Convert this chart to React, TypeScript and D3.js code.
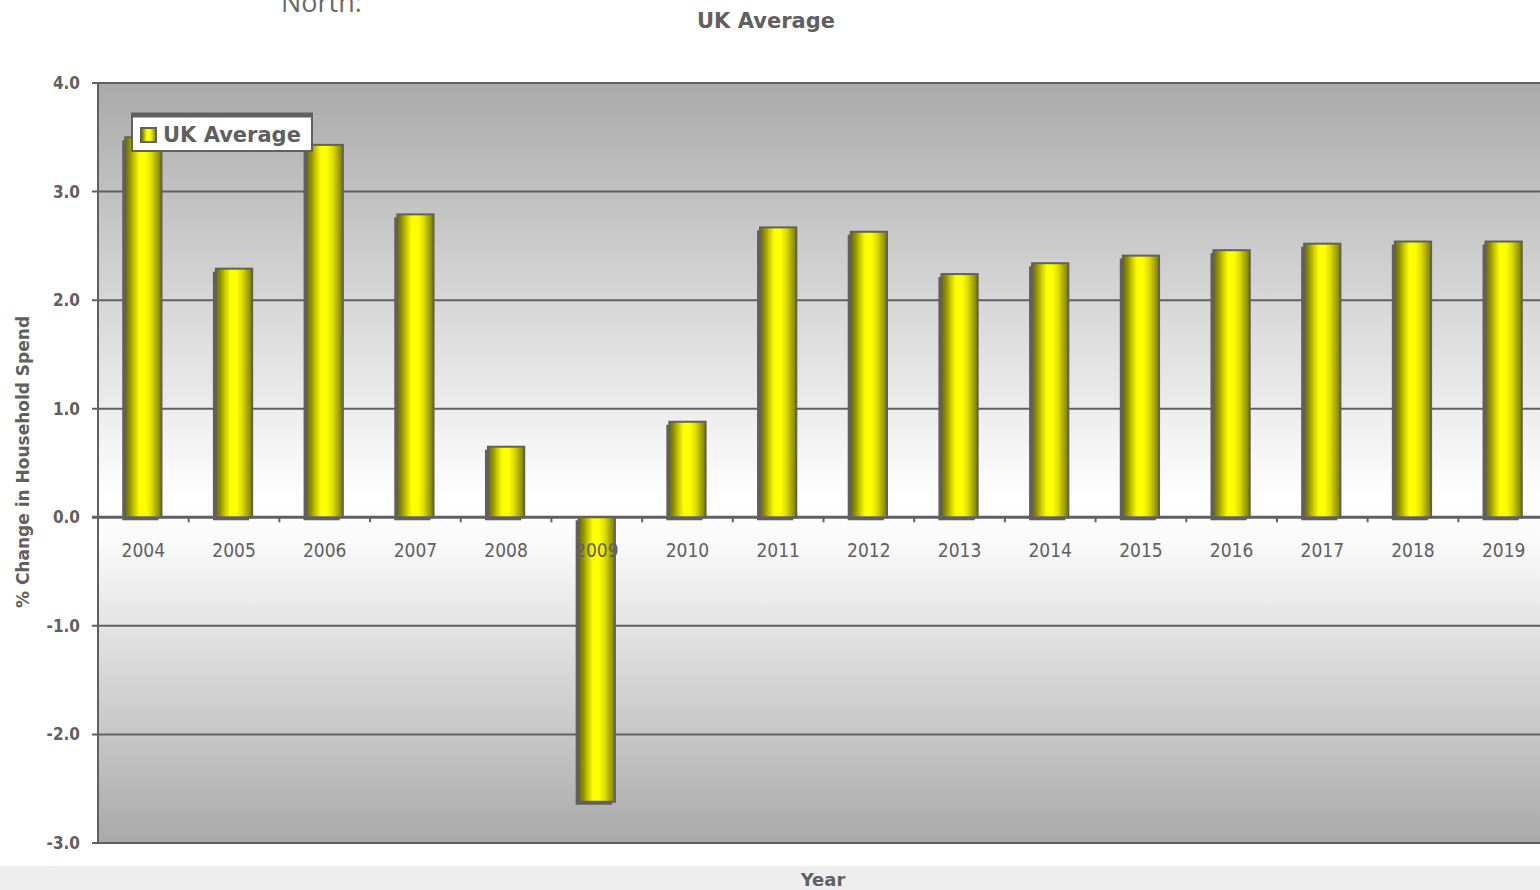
import React from "react";
import * as d3 from "d3";

// Annual % change in household spend, UK average
const years = ["2004", "2005", "2006", "2007", "2008", "2009", "2010", "2011", "2012", "2013", "2014", "2015", "2016", "2017", "2018", "2019"];
const ukAverage = [3.5, 2.29, 3.43, 2.79, 0.65, -2.62, 0.88, 2.67, 2.63, 2.24, 2.34, 2.41, 2.46, 2.52, 2.54, 2.54];
const yTicks = [4, 3, 2, 1, 0, -1, -2, -3];

const W = 1540;
const H = 890;
const plot = { left: 98, top: 83, right: 1549, bottom: 843 };
const axisColor = "#606060";
const textColor = "#606060";

export default function App() {
  const x = d3.scaleBand<string>().domain(years).range([plot.left, plot.right]).paddingInner(0.6).paddingOuter(0.3);
  const y = d3.scaleLinear().domain([-3, 4]).range([plot.bottom, plot.top]);
  const step = x.step();
  const bandStart = (d: string) => (x(d) as number) - step * x.paddingInner() / 2;
  const zero = y(0);

  return (
    <svg width={W} height={H} style={{ position: "absolute", left: 0, top: 0, background: "#fff" }}>
      <defs>
        <linearGradient id="plotBg" x1="0" y1="0" x2="0" y2="1">
          <stop offset="0%" stopColor="#aaaaaa" />
          <stop offset="55%" stopColor="#ffffff" />
          <stop offset="60%" stopColor="#fbfbfb" />
          <stop offset="100%" stopColor="#a9a9a9" />
        </linearGradient>
        <linearGradient id="barFill" x1="0" y1="0" x2="1" y2="0">
          <stop offset="0%" stopColor="#6e6e00" />
          <stop offset="12%" stopColor="#8f8f00" />
          <stop offset="26%" stopColor="#cccc00" />
          <stop offset="40%" stopColor="#ffff00" />
          <stop offset="56%" stopColor="#ffff00" />
          <stop offset="72%" stopColor="#dede00" />
          <stop offset="88%" stopColor="#a4a400" />
          <stop offset="100%" stopColor="#7a7a00" />
        </linearGradient>
      </defs>

      {/* page header remnant */}
      <text x={281} y={12} fontFamily="'Open Sans', sans-serif" fontSize={27} fill="#6a6a6a">North:</text>

      {/* chart title */}
      <text x={766} y={28} textAnchor="middle" fontFamily="'DejaVu Sans', sans-serif" fontWeight="bold" fontSize={21} fill={textColor}>UK Average</text>

      {/* plot area */}
      <rect x={plot.left} y={plot.top} width={W - plot.left} height={plot.bottom - plot.top} fill="url(#plotBg)" />

      {/* gridlines and y ticks */}
      {yTicks.map((t) => (
        <g key={t}>
          <line x1={92} x2={W} y1={y(t)} y2={y(t)} stroke={axisColor} strokeWidth={t === 0 ? 3 : 2} />
          <text x={80} y={y(t)} dy="0.35em" textAnchor="end" fontFamily="'DejaVu Sans', sans-serif" fontStretch="condensed" fontWeight="bold" fontSize={17} fill={textColor}>
            {t.toFixed(1)}
          </text>
        </g>
      ))}

      {/* left axis */}
      <line x1={plot.left} x2={plot.left} y1={plot.top} y2={plot.bottom} stroke={axisColor} strokeWidth={2} />

      {/* category ticks on zero line */}
      {years.slice(1).map((d) => (
        <line key={d} x1={bandStart(d)} x2={bandStart(d)} y1={zero} y2={zero + 5} stroke={axisColor} strokeWidth={2} />
      ))}

      {/* bars */}
      {years.map((d, i) => {
        const v = ukAverage[i];
        const bx = x(d) as number;
        const bw = x.bandwidth();
        const y0 = Math.min(y(v), zero);
        const h = Math.abs(y(v) - zero);
        return (
          <g key={d}>
            <rect x={bx - 3} y={y0 + 3} width={bw} height={h} fill={axisColor} />
            <rect x={bx} y={y0} width={bw} height={h} fill="url(#barFill)" stroke={axisColor} strokeWidth={2} />
          </g>
        );
      })}

      {/* x labels */}
      {years.map((d) => (
        <text key={d} x={(x(d) as number) + x.bandwidth() / 2} y={557} textAnchor="middle" fontFamily="'DejaVu Sans', sans-serif" fontStretch="condensed" fontSize={19} fill={textColor}>
          {d}
        </text>
      ))}

      {/* y axis title */}
      <text transform="translate(29,462) rotate(-90)" textAnchor="middle" fontFamily="'DejaVu Sans', sans-serif" fontWeight="bold" fontSize={17} fill={textColor}>
        % Change in Household Spend
      </text>

      {/* legend */}
      <g>
        <rect x={132} y={115} width={180} height={36} fill="#ffffff" stroke={axisColor} strokeWidth={2} />
        <line x1={131} x2={313} y1={115} y2={115} stroke={axisColor} strokeWidth={5} />
        <rect x={141} y={128} width={15} height={14} fill="url(#barFill)" stroke={axisColor} strokeWidth={2} />
        <text x={163} y={142} fontFamily="'DejaVu Sans', sans-serif" fontWeight="bold" fontSize={21} fill={textColor}>UK Average</text>
      </g>

      {/* bottom band with x axis title */}
      <rect x={0} y={866} width={W} height={H - 866} fill="#eeeeee" />
      <text x={823} y={886} textAnchor="middle" fontFamily="'DejaVu Sans', sans-serif" fontWeight="bold" fontSize={18} fill={textColor}>Year</text>
    </svg>
  );
}
